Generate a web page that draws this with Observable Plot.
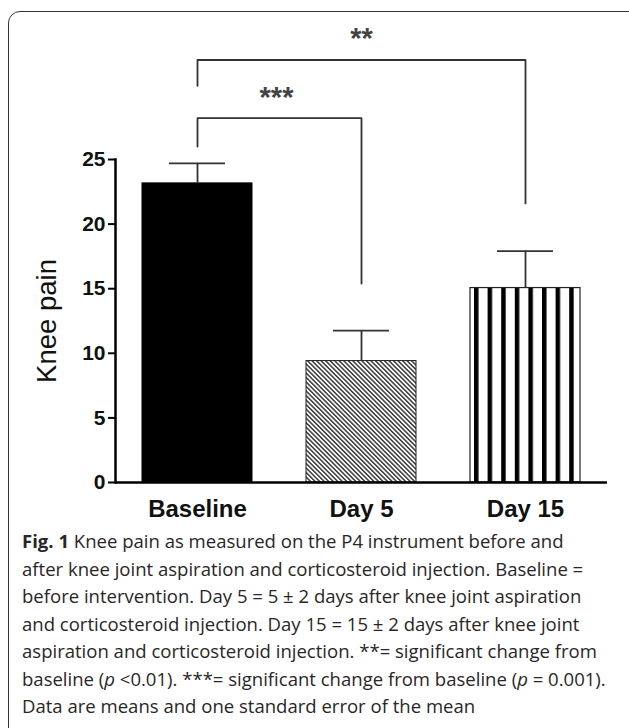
<!DOCTYPE html>
<html>
<head>
<meta charset="utf-8">
<script src="https://cdn.jsdelivr.net/npm/d3@7"></script>
<script src="https://cdn.jsdelivr.net/npm/@observablehq/plot@0.6"></script>
<style>
  html, body { margin: 0; padding: 0; background: #fff; }
  #wrap { position: relative; width: 629px; height: 728px; overflow: hidden; background: #fff; }
  #box { position: absolute; left: 8px; top: 11px; width: 640px; height: 740px; border: 1.5px solid #333; border-radius: 12px; box-sizing: border-box; pointer-events: none; }
  #chart { position: absolute; left: 0; top: 0; }
  #caption { position: absolute; left: 22px; top: 527px; font-family: "Open Sans", sans-serif; font-size: 18.55px; line-height: 27.5px; color: #2a2627; white-space: nowrap; }
  #caption b { font-weight: 700; }
</style>
</head>
<body>
<div id="wrap">
  <div id="chart"></div>
  <div id="caption">
    <b>Fig. 1</b> Knee pain as measured on the P4 instrument before and<br>
    after knee joint aspiration and corticosteroid injection. Baseline =<br>
    before intervention. Day 5 = 5 ± 2 days after knee joint aspiration<br>
    and corticosteroid injection. Day 15 = 15 ± 2 days after knee joint<br>
    aspiration and corticosteroid injection. **= significant change from<br>
    baseline (<i>p</i> &lt;0.01). ***= significant change from baseline (<i>p</i> = 0.001).<br>
    Data are means and one standard error of the mean
  </div>
  <div id="box"></div>
</div>
<script>
// ---- data ----
const categories = ["Baseline", "Day 5", "Day 15"];
const means = [23.15, 9.4, 15.05];
const sems = [1.55, 2.36, 2.86];
const yTicks = [0, 5, 10, 15, 20, 25];

// significance brackets
const bracketFrom = ["Baseline", "Baseline"];
const bracketTo = ["Day 5", "Day 15"];
const bracketY = [28.2, 32.7];
const bracketFromY = [26.0, 30.7];
const bracketToY = [15.4, 21.6];
const bracketLabel = ["***", "**"];
const bracketLabelY = [30.2, 34.7];

// ---- tables built from arrays ----
const bars = categories.map((c, i) => ({cat: c, mean: means[i], se: sems[i]}));
const bracketPts = [];
bracketFrom.forEach((f, i) => {
  bracketPts.push({z: i, x: f, y: bracketFromY[i]});
  bracketPts.push({z: i, x: f, y: bracketY[i]});
  bracketPts.push({z: i, x: bracketTo[i], y: bracketY[i]});
  bracketPts.push({z: i, x: bracketTo[i], y: bracketToY[i]});
});

const W = 629, H = 528;
const mL = 115, mR = 22, mT = 159, mB = 46;
const xOpts = {type: "band", domain: categories, range: [mL, W - mR], paddingInner: 0.33, paddingOuter: 0.165};
const xs = Plot.scale({x: xOpts});
const half = xs.step / 2;
const catIndex = c => categories.indexOf(c);

// labels: centered between the two compared categories
const labelData = bracketLabel.map((t, i) => {
  const a = catIndex(bracketFrom[i]), b = catIndex(bracketTo[i]);
  return {text: t, y: bracketLabelY[i], x: categories[Math.floor((a + b) / 2)], dx: ((a + b) % 2) ? half - 3 : 0};
});

const axisFont = "'Liberation Sans', Arial, sans-serif";

const plot = Plot.plot({
  width: W, height: H,
  marginLeft: mL, marginRight: mR, marginTop: mT, marginBottom: mB,
  style: {fontFamily: axisFont, background: "transparent", color: "#000", overflow: "visible"},
  x: xOpts,
  y: {domain: [0, 25], ticks: yTicks},
  marks: [
    Plot.barY(bars.filter(d => d.cat === "Baseline"), {x: "cat", y: "mean", fill: "black", stroke: "black", strokeWidth: 1}),
    Plot.barY(bars.filter(d => d.cat === "Day 5"), {x: "cat", y: "mean", fill: "url(#hatchDiag)", stroke: "#222", strokeWidth: 1}),
    Plot.barY(bars.filter(d => d.cat === "Day 15"), {x: "cat", y: "mean", fill: "url(#stripesV)", stroke: "#222", strokeWidth: 1.2}),
    Plot.ruleX(bars, {x: "cat", y1: "mean", y2: d => d.mean + d.se, stroke: "#333", strokeWidth: 1.8}),
    Plot.tickY(bars, {x: "cat", y: d => d.mean + d.se, stroke: "#333", strokeWidth: 1.8, insetLeft: 27, insetRight: 27}),
    Plot.line(bracketPts, {x: "x", y: "y", z: "z", stroke: "#333", strokeWidth: 1.8, curve: "linear"}),
    ...labelData.map(d => Plot.text([d], {x: "x", y: "y", text: "text", dx: d.dx, dy: 5, fontSize: 29, fontWeight: "bold", fill: "#444", fontFamily: axisFont})),
    Plot.ruleY([0], {stroke: "black", strokeWidth: 2.5}),
    Plot.frame({anchor: "left", stroke: "black", strokeWidth: 2.5}),
    Plot.axisY({ticks: yTicks, tickSize: 7, tickPadding: 3, fontSize: 21, fontWeight: "bold", label: null, stroke: "black", strokeWidth: 2, fill: "#111"}),
    Plot.axisX({tickSize: 0, tickPadding: 17, fontSize: 24, fontWeight: "bold", label: null, fill: "#111"}),
    Plot.text(["Knee pain"], {frameAnchor: "left", textAnchor: "middle", dx: -68, rotate: -90, fontSize: 27.5, fill: "#111", fontFamily: axisFont})
  ]
});

// patterns
const xsc = plot.scale("x");
const stripeStart = xsc.apply("Day 15") + 4;
const ns = "http://www.w3.org/2000/svg";
const defs = document.createElementNS(ns, "defs");
defs.innerHTML = `
  <pattern id="hatchDiag" patternUnits="userSpaceOnUse" width="3.2" height="10" patternTransform="rotate(-45)">
    <rect x="0" y="0" width="3.2" height="10" fill="#fff"/>
    <rect x="0" y="0" width="1.5" height="10" fill="#3a3a3a"/>
  </pattern>
  <pattern id="stripesV" patternUnits="userSpaceOnUse" x="${stripeStart}" y="0" width="13.6" height="10">
    <rect x="0" y="0" width="13.6" height="10" fill="#fff"/>
    <rect x="0" y="0" width="4.5" height="10" fill="#000"/>
  </pattern>`;
plot.insertBefore(defs, plot.firstChild);
document.getElementById("chart").appendChild(plot);
</script>
</body>
</html>
